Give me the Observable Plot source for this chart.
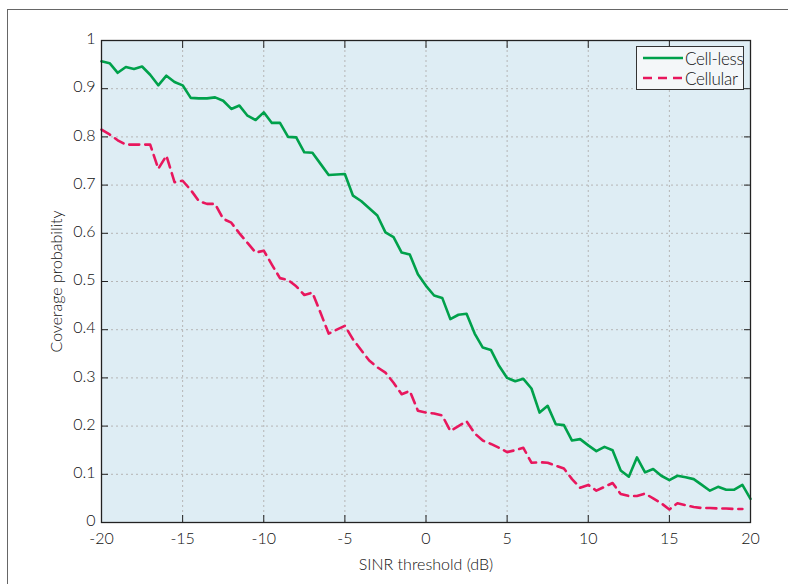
<!DOCTYPE html>
<html><head><meta charset="utf-8">
<script src="https://cdn.jsdelivr.net/npm/d3@7"></script>
<script src="https://cdn.jsdelivr.net/npm/@observablehq/plot@0.6"></script>
<style>
body{margin:0;background:#fff;}
#wrap{position:relative;width:788px;height:584px;overflow:hidden;}
#border{position:absolute;left:7px;top:9px;width:820px;height:620px;border-left:1.5px solid #666;border-top:1.5px solid #666;}
#legend{position:absolute;left:636px;top:46px;width:108px;height:44px;background:#f4f7f9;border:1px solid #333;box-sizing:border-box;font-family:Lato,"Open Sans",sans-serif;font-weight:300;font-size:17px;color:#111;padding-top:1px;white-space:nowrap;overflow:hidden;letter-spacing:-0.3px;}
#legend .row{display:flex;align-items:center;height:20px;}
#legend svg{margin-left:6px;margin-right:2px;flex:none;}
#chart{position:absolute;left:0;top:0;}
#chart svg text{font-weight:300;}
</style>
</head><body>
<div id="wrap">
<div id="border"></div>
<div id="chart"></div>
<div id="legend"></div>
</div>
<script>
const FONT = 'Lato,"Open Sans",sans-serif';
const seriesNames = ["Cell-less", "Cellular"];
const seriesColors = ["#00a14b", "#e8175d"];

const sinrDb = [-20,-19.5,-19,-18.5,-18,-17.5,-17,-16.5,-16,-15.5,-15,-14.5,-14,-13.5,-13,-12.5,-12,-11.5,-11,-10.5,
  -10,-9.5,-9,-8.5,-8,-7.5,-7,-6.5,-6,-5.5,-5,-4.5,-4,-3.5,-3,-2.5,-2,-1.5,-1,-0.5,
  0,0.5,1,1.5,2,2.5,3,3.5,4,4.5,5,5.5,6,6.5,7,7.5,8,8.5,9,9.5,
  10,10.5,11,11.5,12,12.5,13,13.5,14,14.5,15,15.5,16,16.5,17,17.5,18,18.5,19,19.5,20];

const cellLess = [0.957,0.953,0.933,0.945,0.941,0.946,0.929,0.907,0.927,0.914,0.907,0.881,0.880,0.880,0.882,0.875,0.858,0.865,0.844,0.835,
  0.851,0.829,0.829,0.800,0.799,0.768,0.767,0.744,0.721,0.722,0.723,0.678,0.667,0.652,0.637,0.602,0.592,0.560,0.556,0.515,
  0.491,0.471,0.466,0.422,0.431,0.433,0.392,0.363,0.358,0.325,0.300,0.293,0.298,0.278,0.228,0.242,0.204,0.202,0.170,0.173,
  0.160,0.148,0.157,0.150,0.108,0.095,0.135,0.104,0.111,0.097,0.088,0.097,0.094,0.090,0.078,0.066,0.074,0.068,0.068,0.078,0.049];

const cellular = [0.815,0.805,0.793,0.784,0.784,0.784,0.784,0.734,0.761,0.706,0.709,0.690,0.667,0.661,0.661,0.630,0.622,0.600,0.580,0.560,
  0.564,0.535,0.507,0.503,0.490,0.472,0.477,0.435,0.392,0.400,0.408,0.380,0.358,0.336,0.322,0.311,0.290,0.266,0.273,0.232,
  0.228,0.226,0.222,0.190,0.200,0.210,0.185,0.170,0.163,0.155,0.146,0.150,0.155,0.124,0.125,0.124,0.118,0.112,0.090,0.072,
  0.078,0.066,0.074,0.082,0.059,0.055,0.055,0.060,0.050,0.040,0.027,0.040,0.036,0.032,0.030,0.030,0.029,0.029,0.028,0.028];

const xTicks = [-20,-15,-10,-5,0,5,10,15,20];
const yTicks = [0,0.1,0.2,0.3,0.4,0.5,0.6,0.7,0.8,0.9,1];
const xLabel = "SINR threshold (dB)";
const yLabel = "Coverage probability";

const cellLessData = cellLess.map((v, i) => ({x: sinrDb[i], y: v}));
const cellularData = cellular.map((v, i) => ({x: sinrDb[i], y: v}));

const fmt = d => String(d);
const chart = Plot.plot({
  width: 788, height: 584,
  marginLeft: 101, marginRight: 38, marginTop: 40, marginBottom: 62,
  style: {fontFamily: FONT, fontSize: "16px", color: "#111", background: "transparent", overflow: "visible"},
  x: {domain: [-20, 20]},
  y: {domain: [0, 1]},
  marks: [
    Plot.frame({fill: "#deedf4"}),
    Plot.gridX(xTicks, {stroke: "#b5b5b5", strokeOpacity: 1, strokeDasharray: "2,3"}),
    Plot.gridY(yTicks, {stroke: "#b5b5b5", strokeOpacity: 1, strokeDasharray: "2,3"}),
    Plot.line(cellLessData, {x: "x", y: "y", stroke: seriesColors[0], strokeWidth: 2.6}),
    Plot.line(cellularData, {x: "x", y: "y", stroke: seriesColors[1], strokeWidth: 2.6, strokeDasharray: "10,6"}),
    Plot.frame({stroke: "#222", strokeWidth: 1.3}),
    Plot.axisX(xTicks, {anchor: "bottom", tickSize: 0, tickPadding: 10, tickFormat: fmt, label: xLabel, labelAnchor: "center", labelArrow: "none", labelOffset: 47, fontSize: 16}),
    Plot.axisX(xTicks, {anchor: "bottom", tickSize: -7, tickFormat: () => "", label: null, stroke: "#222"}),
    Plot.axisX(xTicks, {anchor: "top", tickSize: -7, tickFormat: () => "", label: null, stroke: "#222"}),
    Plot.axisY(yTicks, {anchor: "left", tickSize: 0, tickPadding: 6, dy: -1.5, tickFormat: fmt, label: yLabel, labelAnchor: "center", labelArrow: "none", labelOffset: 51, fontSize: 16}),
    Plot.axisY(yTicks, {anchor: "left", tickSize: -7, tickFormat: () => "", label: null, stroke: "#222"}),
    Plot.axisY(yTicks, {anchor: "right", tickSize: -7, tickFormat: () => "", label: null, stroke: "#222"})
  ]
});
document.getElementById("chart").appendChild(chart);

const legend = document.getElementById("legend");
seriesNames.forEach((name, i) => {
  const row = document.createElement("div");
  row.className = "row";
  row.innerHTML = `<svg width="40" height="6"><line x1="0" y1="3" x2="40" y2="3" stroke="${seriesColors[i]}" stroke-width="2.6" ${i === 1 ? 'stroke-dasharray="9,6"' : ''}/></svg><span>${name}</span>`;
  legend.appendChild(row);
});
</script>
</body></html>
